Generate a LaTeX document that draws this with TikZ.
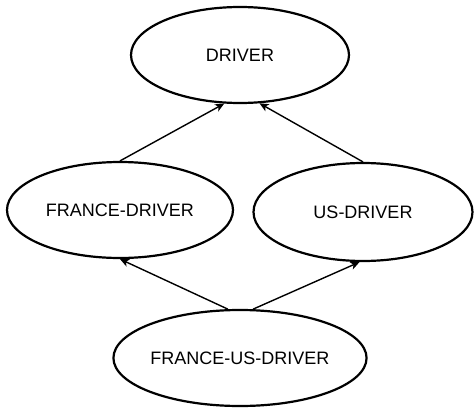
\documentclass[tikz,border=0pt]{standalone}
\usepackage{fontspec}
\setmainfont{Liberation Sans}
\usetikzlibrary{shapes.geometric,arrows.meta}
\begin{document}
\begin{tikzpicture}[x=1pt,y=-1pt,
  cls/.style={ellipse,draw,line width=2.2pt,inner sep=0pt,font=\fontsize{18}{21}\selectfont},
  isa/.style={line width=1.4pt,-{Stealth[length=9pt,width=8pt,inset=2.5pt]}}]
  \useasboundingbox (0,0) rectangle (474,412);
  \node[cls,minimum width=218pt,minimum height=96pt] (d)   at (240,55)  {DRIVER};
  \node[cls,minimum width=226pt,minimum height=96pt] (fd)  at (120,210) {FRANCE-DRIVER};
  \node[cls,minimum width=219pt,minimum height=98pt] (us)  at (363,212) {US-DRIVER};
  \node[cls,minimum width=222pt,minimum height=96pt] (fud) at (240,358) {FRANCE-US-DRIVER};
  \draw[isa] (fd.north) -- (d.252);
  \draw[isa] (us.north) -- (d.292);
  \draw[isa] (fud.104) -- (fd.south);
  \draw[isa] (fud.75) -- (us.266);
\end{tikzpicture}
\end{document}
